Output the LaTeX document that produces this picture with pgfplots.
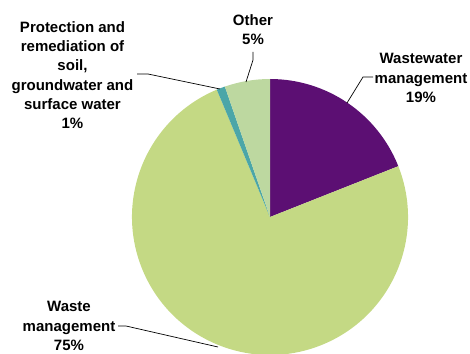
\documentclass[border=0pt]{standalone}
\usepackage{pgfplots}
\usepackage{pgfplotstable}
\pgfplotsset{compat=1.18}
\usepackage{fontspec}
\setmainfont{Liberation Sans}
\definecolor{cWW}{RGB}{92,15,115}
\definecolor{cWM}{RGB}{196,217,132}
\definecolor{cPR}{RGB}{75,166,168}
\definecolor{cOT}{RGB}{189,216,160}

\pgfplotstableread{
label value
Wastewater 19.0
Waste 74.7
Protection 1.0
Other 5.3
}\piedata

\begin{document}
\begin{tikzpicture}
\pgfplotstablegetelem{0}{value}\of\piedata \pgfmathsetmacro{\aA}{90-3.6*\pgfplotsretval}
\pgfplotstablegetelem{1}{value}\of\piedata \pgfmathsetmacro{\aB}{\aA-3.6*\pgfplotsretval}
\pgfplotstablegetelem{2}{value}\of\piedata \pgfmathsetmacro{\aC}{\aB-3.6*\pgfplotsretval}
\pgfplotstablegetelem{3}{value}\of\piedata \pgfmathsetmacro{\aD}{\aC-3.6*\pgfplotsretval}
\begin{axis}[at={(0,0)},anchor=south west, scale only axis, width=470bp, height=354bp,
  xmin=0,xmax=470,ymin=0,ymax=354, hide axis, clip=true]
\fill[cWW] (axis cs:270,137) -- ([shift={(90:138bp)}]axis cs:270,137) arc[start angle=90,end angle=\aA,radius=138bp] -- cycle;
\fill[cWM] (axis cs:270,137) -- ([shift={(\aA:138bp)}]axis cs:270,137) arc[start angle=\aA,end angle=\aB,radius=138bp] -- cycle;
\fill[cPR] (axis cs:270,137) -- ([shift={(\aB:138bp)}]axis cs:270,137) arc[start angle=\aB,end angle=\aC,radius=138bp] -- cycle;
\fill[cOT] (axis cs:270,137) -- ([shift={(\aC:138bp)}]axis cs:270,137) arc[start angle=\aC,end angle=\aD,radius=138bp] -- cycle;
% leader lines
\draw[line width=0.7bp] (axis cs:373,277) -- (axis cs:363,277) -- (axis cs:347,251);
\draw[line width=0.7bp] (axis cs:253,302) -- (axis cs:253,294) -- (axis cs:246,272);
\draw[line width=0.7bp] (axis cs:137,280) -- (axis cs:148,280) -- (axis cs:220,265);
\draw[line width=0.7bp] (axis cs:118,28) -- (axis cs:126,28) -- (axis cs:218,7);
% labels
\tikzset{lab/.style={align=center, inner sep=0pt, font=\fontsize{15bp}{19.3bp}\selectfont\bfseries}}
\node[lab] at (axis cs:72.5,279) {Protection and\\remediation of\\soil,\\groundwater and\\surface water\\1\%};
\node[lab] at (axis cs:253,324.5) {Other\\5\%};
\node[lab] at (axis cs:421,276) {Wastewater\\management\\19\%};
\node[lab] at (axis cs:69,28) {Waste\\management\\75\%};
\end{axis}
\pgfresetboundingbox
\path[use as bounding box] (0,0) rectangle (470bp,354bp);
\end{tikzpicture}
\end{document}
